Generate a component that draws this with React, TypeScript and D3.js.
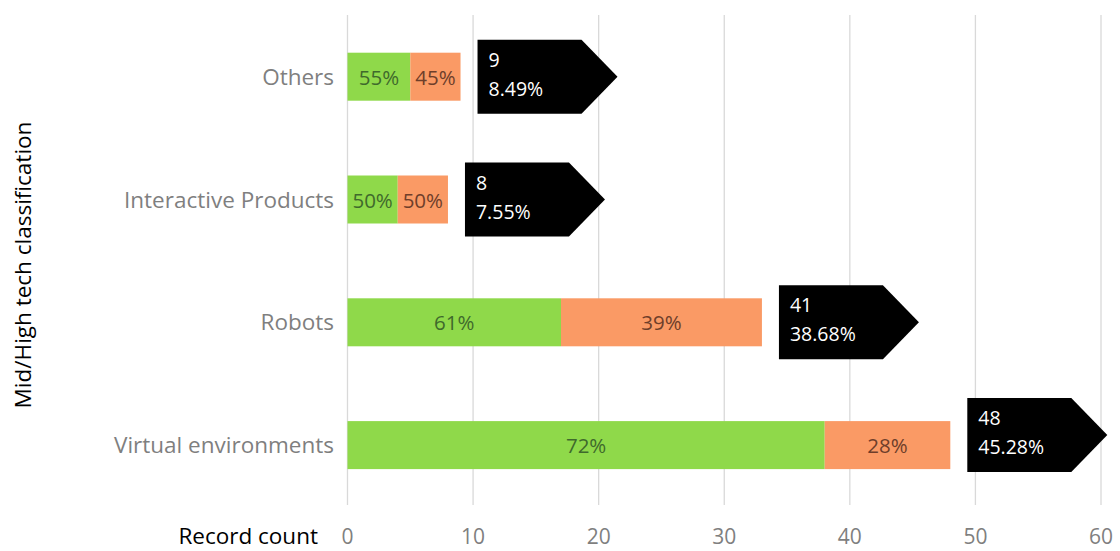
import React from "react";
import * as d3 from "d3";

const categories = ["Others", "Interactive Products", "Robots", "Virtual environments"];
const greenValues = [5, 4, 17, 38];
const orangeValues = [4, 4, 16, 10];
const greenLabels = ["55%", "50%", "61%", "72%"];
const orangeLabels = ["45%", "50%", "39%", "28%"];
const calloutCounts = ["9", "8", "41", "48"];
const calloutShares = ["8.49%", "7.55%", "38.68%", "45.28%"];
const xTicks = [0, 10, 20, 30, 40, 50, 60];

const W = 1120;
const H = 551;
const FONT = "'Open Sans', 'Noto Sans', sans-serif";

export default function App() {
  const x = d3.scaleLinear().domain([0, 60]).range([347.5, 1101]);
  const y = d3.scalePoint<string>().domain(categories).range([15.3, 506.5]).padding(0.5);
  const barH = 48;
  const gridTop = 15;
  const gridBottom = 505;
  const calloutH = 74;
  const calloutRectW = 104;
  const calloutTip = 36;
  const calloutGap = 17;

  return (
    <svg width={W} height={H} style={{ position: "absolute", left: 0, top: 0, background: "#fff" }} fontFamily={FONT}>
      {xTicks.map((t) => (
        <g key={t}>
          <line x1={x(t)} x2={x(t)} y1={gridTop} y2={gridBottom} stroke="#d9d9d9" strokeWidth={1.3} />
          <text x={x(t)} y={544} textAnchor="middle" fontSize={21} fill="#7f7f7f">{t}</text>
        </g>
      ))}
      <text x={318} y={544} textAnchor="end" fontSize={22.5} fill="#000">Record count</text>
      <text
        transform={`translate(31, 265) rotate(-90)`}
        textAnchor="middle"
        fontSize={22.5}
        fill="#000"
      >Mid/High tech classification</text>
      {categories.map((c, i) => {
        const cy = y(c)!;
        const g = greenValues[i];
        const o = orangeValues[i];
        const total = g + o;
        const endX = x(total);
        const cx0 = endX + calloutGap;
        const top = Math.min(cy - calloutH / 2, 472 - calloutH);
        const bottom = top + calloutH;
        const mid = (top + bottom) / 2;
        const path = d3.path();
        path.moveTo(cx0, top);
        path.lineTo(cx0 + calloutRectW, top);
        path.lineTo(cx0 + calloutRectW + calloutTip, mid);
        path.lineTo(cx0 + calloutRectW, bottom);
        path.lineTo(cx0, bottom);
        path.closePath();
        return (
          <g key={c}>
            <text x={334} y={cy + 8} textAnchor="end" fontSize={22.5} fill="#7f7f7f">{c}</text>
            <rect x={x(0)} y={cy - barH / 2} width={x(g) - x(0)} height={barH} fill="#8fd94a" />
            <rect x={x(g)} y={cy - barH / 2} width={x(total) - x(g)} height={barH} fill="#fa9a65" />
            <text x={(x(0) + x(g)) / 2} y={cy + 8} textAnchor="middle" fontSize={20.5} fill="#3f6a2c">{greenLabels[i]}</text>
            <text x={(x(g) + x(total)) / 2} y={cy + 8} textAnchor="middle" fontSize={20.5} fill="#6e3e2a">{orangeLabels[i]}</text>
            <path d={path.toString()} fill="#000" />
            <text x={cx0 + 11} y={top + 27} fontSize={19.5} fill="#fff">{calloutCounts[i]}</text>
            <text x={cx0 + 11} y={top + 56} fontSize={19.5} fill="#fff">{calloutShares[i]}</text>
          </g>
        );
      })}
    </svg>
  );
}
